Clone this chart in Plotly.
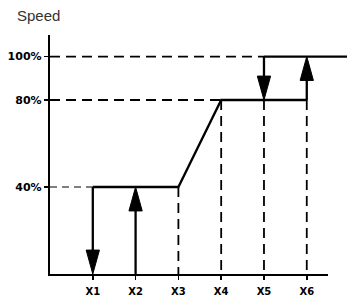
import plotly.graph_objects as go

# ---- data ----
x_positions = [1, 2, 3, 4, 5, 6]
x_labels = ["X1", "X2", "X3", "X4", "X5", "X6"]
y_ticks = [40, 80, 100]
y_labels = ["40%", "80%", "100%"]
speed_low = 0
speed_mid = 40
speed_high = 80
speed_max = 100
x_end_axis = 6.5
x_end_plot = 6.94
y_end_plot = 109.9

X1, X2, X3, X4, X5, X6 = x_positions

BLACK = "#000000"
SOLID_W = 2.3
DASH_W = 1.8

fig = go.Figure()

def line(xs, ys, width=SOLID_W, dash="solid", axis="x"):
    fig.add_trace(go.Scatter(x=xs, y=ys, mode="lines", xaxis=axis, yaxis="y",
                             line=dict(color=BLACK, width=width, dash=dash),
                             hoverinfo="skip", showlegend=False))

# dashed guide lines
dash = "10px,6px"
line([0, X5], [speed_max, speed_max], DASH_W, dash)
line([0, X4], [speed_high, speed_high], DASH_W, dash)
line([0, X1], [speed_mid, speed_mid], 1.1, "7px,5px")
line([X3, X3], [speed_mid, speed_low], DASH_W, dash)
line([X4, X4], [speed_high, speed_low], DASH_W, dash)
line([X5, X5], [speed_high, speed_low], DASH_W, dash)
line([X6, X6], [speed_high, speed_low], DASH_W, dash)

# solid profile
line([X1, X3, X4, X6], [speed_mid, speed_mid, speed_high, speed_high])
line([X5, x_end_plot], [speed_max, speed_max])

# arrows (shaft + filled head)
HEAD_H = 11.0   # in y units
HEAD_HW = 0.155  # in x units

def arrow(x, y_from, y_to):
    sign = 1 if y_to > y_from else -1
    base = y_to - sign * HEAD_H
    line([x, x], [y_from, base])
    fig.add_trace(go.Scatter(x=[x - HEAD_HW, x + HEAD_HW, x, x - HEAD_HW],
                             y=[base, base, y_to, base], mode="lines",
                             fill="toself", fillcolor=BLACK,
                             line=dict(color=BLACK, width=1),
                             hoverinfo="skip", showlegend=False))

arrow(X1, speed_mid, speed_low)
arrow(X2, speed_low, speed_mid)
arrow(X5, speed_max, speed_high)
arrow(X6, speed_high, speed_max)

# invisible trace to create the x2 subplot (axis line + ticks)
fig.add_trace(go.Scatter(x=[0, x_end_axis], y=[speed_low, speed_low], xaxis="x2", yaxis="y",
                         mode="lines", line=dict(color="rgba(0,0,0,0)", width=0),
                         hoverinfo="skip", showlegend=False))

tick_font = dict(family="DejaVu Sans", size=11, color=BLACK, weight="bold")

fig.update_layout(
    width=347, height=300,
    margin=dict(l=50, r=0, t=35, b=26),
    paper_bgcolor="white", plot_bgcolor="rgba(0,0,0,0)",
    xaxis=dict(domain=[0, 1], range=[0, x_end_plot], visible=False, fixedrange=True),
    xaxis2=dict(domain=[0, x_end_axis / x_end_plot], range=[0, x_end_axis], anchor="y",
                showline=True, linewidth=2.2, linecolor=BLACK, mirror=False,
                ticks="outside", ticklen=4, tickwidth=1.6, tickcolor=BLACK,
                ticklabelstandoff=3,
                tickvals=x_positions, ticktext=x_labels,
                tickfont=dict(family="DejaVu Sans", size=10, color=BLACK, weight="bold"),
                showgrid=False, zeroline=False),
    yaxis=dict(range=[0, y_end_plot], anchor="x",
               showline=True, linewidth=2.2, linecolor=BLACK,
               ticks="outside", ticklen=4, tickwidth=1.6, tickcolor=BLACK,
               tickvals=y_ticks, ticktext=y_labels, tickfont=tick_font,
               showgrid=False, zeroline=False),
    annotations=[dict(text="Speed", xref="paper", yref="paper",
                      x=(15 - 50) / 297, y=(274 - 16) / 239,
                      xanchor="left", yanchor="middle", showarrow=False,
                      font=dict(family="Liberation Sans", size=15, color="#333333"))],
)

fig.write_html("out.html", config={"displayModeBar": False, "staticPlot": True},
               post_script="document.body.style.margin='0';document.body.style.overflow='hidden';")
